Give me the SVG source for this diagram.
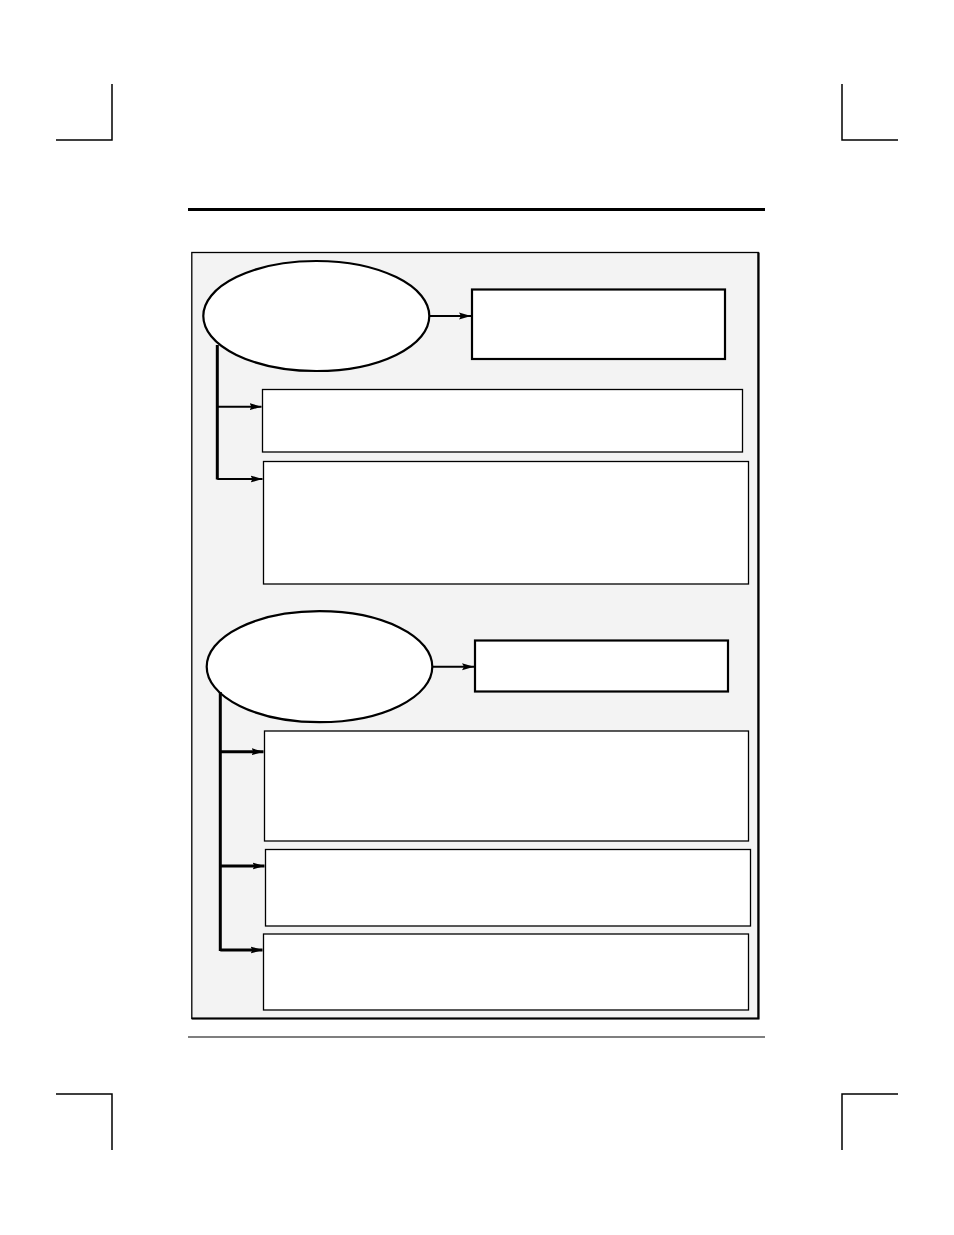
<svg xmlns="http://www.w3.org/2000/svg" width="954" height="1235" viewBox="0 0 954 1235">
<style>
.crop{stroke:#000;stroke-width:1.5;fill:none}
.ell{fill:#fff;stroke:#000;stroke-width:2.2}
.thick{fill:#fff;stroke:#000;stroke-width:2.2}
.thin{fill:#fff;stroke:#000;stroke-width:1.3}
.arr{stroke:#000;stroke-width:2;fill:none;marker-end:url(#ah)}
.arr3{stroke:#000;stroke-width:3;fill:none;marker-end:url(#ah)}
.trunk{stroke:#000;stroke-width:3;fill:none}
</style>
<defs>
<marker id="ah" markerUnits="userSpaceOnUse" markerWidth="13" markerHeight="9" refX="12" refY="4.5" orient="auto">
<path d="M0,1 L12,4.5 L0,8 L2,4.5 Z" fill="#000"/>
</marker>
</defs>
<rect width="954" height="1235" fill="#fff"/>
<g id="cropmarks">
<path class="crop" d="M112,84 V140 H56"/>
<path class="crop" d="M842,84 V140 H898"/>
<path class="crop" d="M56,1094 H112 V1150"/>
<path class="crop" d="M898,1094 H842 V1150"/>
</g>
<line x1="188" y1="209.5" x2="765" y2="209.5" stroke="#000" stroke-width="3"/>
<line x1="188" y1="1037" x2="765" y2="1037" stroke="#000" stroke-width="1.2"/>
<g id="frame">
<rect x="191.8" y="252.5" width="566.5" height="766" fill="#f3f3f3" stroke="#000" stroke-width="1.3"/>
<path d="M191.8,1018.5 H758.5 V252.5" fill="none" stroke="#000" stroke-width="2.2"/>
</g>
<g id="node-ellipse1"><ellipse class="ell" cx="316.3" cy="316" rx="113" ry="55"/></g>
<g id="node-box1"><rect class="thick" x="472" y="289.5" width="253" height="69.5"/></g>
<g id="node-box2"><rect class="thin" x="262.5" y="389.5" width="480" height="62.5"/></g>
<g id="node-box3"><rect class="thin" x="263.5" y="461.5" width="485" height="122.5"/></g>
<g id="node-ellipse2"><ellipse class="ell" cx="319.5" cy="666.7" rx="112.8" ry="55.5"/></g>
<g id="node-box4"><rect class="thick" x="475" y="640.5" width="253" height="51"/></g>
<g id="node-box5"><rect class="thin" x="264.5" y="731" width="484" height="110"/></g>
<g id="node-box6"><rect class="thin" x="265.5" y="849.5" width="485" height="76.5"/></g>
<g id="node-box7"><rect class="thin" x="263.5" y="934" width="485" height="76"/></g>
<g id="connectors">
<line class="arr" x1="429.5" y1="316" x2="471" y2="316"/>
<path class="trunk" d="M217.3,345 V479.5"/>
<line class="arr" x1="217.3" y1="406.7" x2="261.5" y2="406.7"/>
<line class="arr" x1="217.3" y1="479" x2="262.5" y2="479"/>
<line class="arr" x1="432.5" y1="666.7" x2="474" y2="666.7"/>
<path class="trunk" d="M220.3,692 V951"/>
<line class="arr3" x1="220.3" y1="751.7" x2="263.5" y2="751.7"/>
<line class="arr3" x1="220.3" y1="866" x2="264.5" y2="866"/>
<line class="arr3" x1="220.3" y1="950" x2="262.5" y2="950"/>
</g>
</svg>
